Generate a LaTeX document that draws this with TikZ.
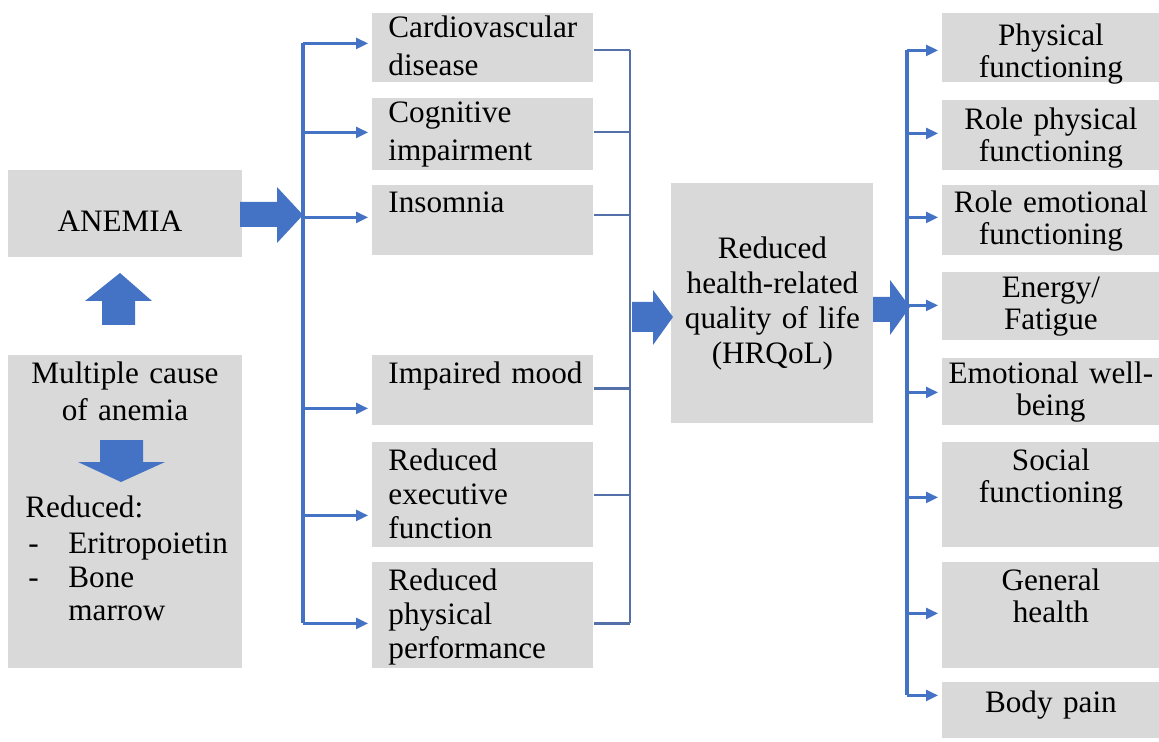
\documentclass[tikz,border=0pt]{standalone}
\usepackage{fontspec}
\setmainfont{Liberation Serif}
\usetikzlibrary{arrows.meta,calc}
\definecolor{boxgray}{HTML}{D9D9D9}
\definecolor{arrblue}{HTML}{4472C4}
\definecolor{conblue}{HTML}{5470A8}
\begin{document}
\begin{tikzpicture}[x=0.5pt,y=-0.5pt,
  bx/.style={fill=boxgray, draw=none, anchor=north west, inner sep=0pt, minimum width=#1},
  txt/.style={font=\fontsize{15.6pt}{18pt}\selectfont, inner sep=0pt, text=black},
  ltxt/.style={txt, text width=100pt, align=left, anchor=base west},
  rtxt/.style={txt, text width=108pt, align=center, anchor=base, font=\fontsize{15.6pt}{16pt}\selectfont},
  br/.style={draw=arrblue, line width=1.2pt, -{Triangle[length=6pt,width=5.5pt]}, shorten >=2pt},
  cn/.style={draw=conblue, line width=1.1pt},
  trunk/.style={draw=arrblue, line width=1.6pt},
  blk/.style={fill=arrblue, draw=none}
]
\useasboundingbox (0,0) rectangle (1159,742);

% ---------- left boxes ----------
\node[bx=117pt, minimum height=43.5pt] (anemia) at (8,170) {};
\node[txt, anchor=base] (anemiat) at (120,232) {ANEMIA};
\node[bx=117pt, minimum height=156.5pt] (cause) at (8,355) {};
\node[txt, text width=115pt, align=center, anchor=base, font=\fontsize{15.6pt}{18.5pt}\selectfont] (causet) at (125,383) {Multiple cause\\of anemia};
\node[txt, anchor=base west] (redt) at (25,517) {Reduced:};
\node[txt, anchor=base west] (d1) at (28,553) {-};
\node[txt, anchor=base west] (d2) at (28,587) {-};
\node[txt, anchor=base west] (e1) at (68,553) {Eritropoietin};
\node[txt, text width=80pt, align=left, anchor=base west, font=\fontsize{15.6pt}{16.5pt}\selectfont] (e2) at (68,587) {Bone\\marrow};

% up arrow (cause -> anemia)
\fill[blk] (120,273) -- (152,301) -- (135,301) -- (135,325) -- (102,325) -- (102,301) -- (85,301) -- cycle;
% down arrow inside cause box
\fill[blk] (100,440) -- (143,440) -- (143,462) -- (165,462) -- (121,482) -- (78,462) -- (100,462) -- cycle;
% anemia -> trunk
\fill[blk] (240,202) -- (277,202) -- (277,187) -- (303,215) -- (277,243) -- (277,227) -- (240,227) -- cycle;

% ---------- middle boxes ----------
\node[bx=110.5pt, minimum height=34.5pt] (cv) at (372,13) {};
\node[bx=110.5pt, minimum height=36pt] (cog) at (372,98) {};
\node[bx=110.5pt, minimum height=35pt] (ins) at (372,185) {};
\node[bx=110.5pt, minimum height=35pt] (imp) at (372,355) {};
\node[bx=110.5pt, minimum height=52.5pt] (exe) at (372,442) {};
\node[bx=110.5pt, minimum height=53pt] (phy) at (372,562) {};

\node[ltxt, font=\fontsize{15.6pt}{19pt}\selectfont] (cvt) at ([shift={(16,25)}]cv.north west) {Cardiovascular\\disease};
\node[ltxt, font=\fontsize{15.6pt}{19pt}\selectfont] (cogt) at ([shift={(16,25)}]cog.north west) {Cognitive\\impairment};
\node[ltxt] (inst) at ([shift={(16,28)}]ins.north west) {Insomnia};
\node[ltxt] (impt) at ([shift={(16,28)}]imp.north west) {Impaired mood};
\node[ltxt, font=\fontsize{15.6pt}{17pt}\selectfont] (exet) at ([shift={(16,28)}]exe.north west) {Reduced\\executive\\function};
\node[ltxt, font=\fontsize{15.6pt}{17pt}\selectfont] (phyt) at ([shift={(16,28)}]phy.north west) {Reduced\\physical\\performance};

% left trunk and branches
\coordinate (ltop) at (303,43);
\coordinate (lbot) at (303,623);
\draw[trunk] (ltop) -- (lbot);
\coordinate (l1) at ($(cv.west)+(0,-4.5)$);
\coordinate (l2) at ($(cog.west)+(0,-2)$);
\coordinate (l3) at ($(ins.west)+(0,-3)$);
\coordinate (l4) at ($(imp.west)+(0,18)$);
\coordinate (l5) at ($(exe.west)+(0,20.5)$);
\coordinate (l6) at ($(phy.west)+(0,8)$);
\foreach \c in {l1,l2,l3,l4,l5,l6} \draw[br] (ltop |- \c) -- (\c);

% middle -> right trunk
\coordinate (mtop) at (630,50);
\coordinate (mbot) at (630,623);
\draw[cn] (mtop) -- (mbot);
\coordinate (m1) at ($(cv.east)+(0,2.5)$);
\coordinate (m2) at ($(cog.east)+(0,-2)$);
\coordinate (m3) at ($(ins.east)+(0,-5)$);
\coordinate (m4) at ($(imp.east)+(0,-2)$);
\coordinate (m5) at ($(exe.east)+(0,0)$);
\coordinate (m6) at ($(phy.east)+(0,8)$);
\foreach \c in {m1,m2,m3,m4,m5,m6} \draw[cn] (\c) -- (mtop |- \c);

% ---------- HRQoL ----------
\node[bx=101pt, minimum height=120pt, anchor=north west, text width=101pt, align=center, font=\fontsize{15.6pt}{17.5pt}\selectfont] (hrq) at (671,183) {Reduced\\health-related\\quality of life\\(HRQoL)};
\fill[blk] (632,302) -- (653,302) -- (653,290) -- (673,317) -- (653,345) -- (653,332) -- (632,332) -- cycle;
\fill[blk] (873,297) -- (890,297) -- (890,280) -- (910,307) -- (890,335) -- (890,322) -- (873,322) -- cycle;

% ---------- right boxes ----------
\node[bx=108.5pt, minimum height=34.5pt] (r1) at (942,13) {};
\node[bx=108.5pt, minimum height=35pt] (r2) at (942,100) {};
\node[bx=108.5pt, minimum height=35pt] (r3) at (942,185) {};
\node[bx=108.5pt, minimum height=34pt] (r4) at (942,272) {};
\node[bx=108.5pt, minimum height=33.5pt] (r5) at (942,358) {};
\node[bx=108.5pt, minimum height=52.5pt] (r6) at (942,442) {};
\node[bx=108.5pt, minimum height=53pt] (r7) at (942,562) {};
\node[bx=108.5pt, minimum height=28pt] (r8) at (942,682) {};

\node[rtxt] (r1t) at ([shift={(0,33)}]r1.north) {Physical\\functioning};
\node[rtxt] (r2t) at ([shift={(0,30)}]r2.north) {Role physical\\functioning};
\node[rtxt] (r3t) at ([shift={(0,28)}]r3.north) {Role emotional\\functioning};
\node[rtxt] (r4t) at ([shift={(0,26)}]r4.north) {Energy/\\Fatigue};
\node[rtxt] (r5t) at ([shift={(0,25)}]r5.north) {Emotional well-\\being};
\node[rtxt] (r6t) at ([shift={(0,28)}]r6.north) {Social\\functioning};
\node[rtxt] (r7t) at ([shift={(0,28)}]r7.north) {General\\health};
\node[rtxt] (r8t) at ([shift={(0,30)}]r8.north) {Body pain};

% right trunk and branches
\coordinate (rtop) at (907,50);
\coordinate (rbot) at (907,695);
\draw[trunk] (rtop) -- (rbot);
\coordinate (q1) at ($(r1.west)+(0,2.5)$);
\coordinate (q2) at ($(r2.west)+(0,-2)$);
\coordinate (q3) at ($(r3.west)+(0,-3)$);
\coordinate (q4) at ($(r4.west)+(0,-1)$);
\coordinate (q5) at ($(r5.west)+(0,0.5)$);
\coordinate (q6) at ($(r6.west)+(0,2.5)$);
\coordinate (q7) at ($(r7.west)+(0,-2)$);
\coordinate (q8) at ($(r8.west)+(0,-15)$);
\foreach \c in {q1,q2,q3,q4,q5,q6,q7,q8} \draw[br] (rtop |- \c) -- (\c);
\end{tikzpicture}
\end{document}
